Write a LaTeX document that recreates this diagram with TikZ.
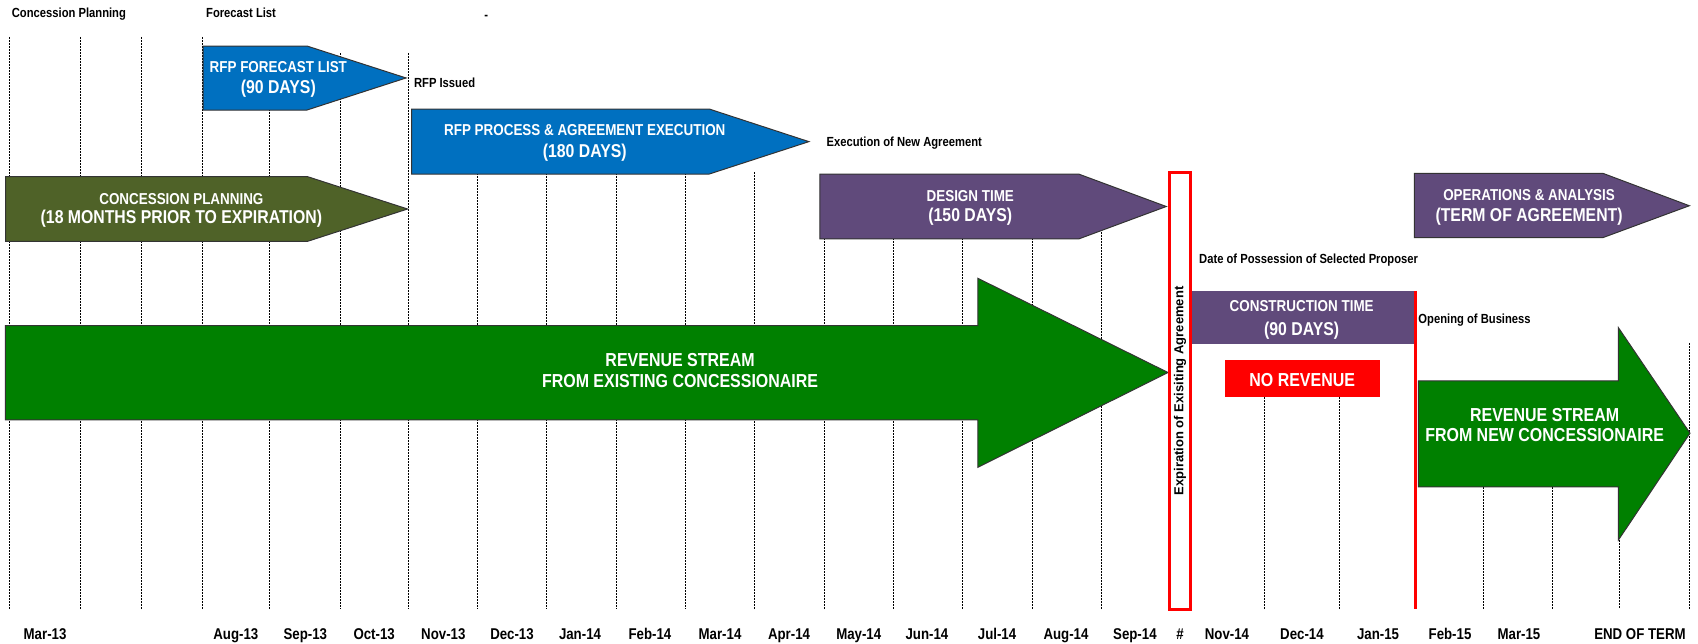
\documentclass[tikz,border=0pt]{standalone}
\usepackage{fontspec}
\setmainfont{Liberation Sans}[FakeStretch=0.85]
\newfontfamily\widefont{Liberation Sans}
\definecolor{rfpblue}{HTML}{0070C0}
\definecolor{planolive}{HTML}{4F6228}
\definecolor{phasepurple}{HTML}{604A7B}
\definecolor{revgreen}{HTML}{008000}
\newcommand{\notefont}{\fontsize{6.6}{8}\selectfont\bfseries}
\newcommand{\headfont}{\fontsize{7.9}{9.5}\selectfont\bfseries}
\newcommand{\daysfont}{\fontsize{9.3}{11}\selectfont\bfseries}
\newcommand{\revfont}{\fontsize{9.4}{11}\selectfont\bfseries}
\newcommand{\monthfont}{\fontsize{7.8}{9}\selectfont\bfseries}
\tikzset{
  gridline/.style={black, line width=0.45pt, dash pattern=on 0.9pt off 0.6pt},
  phase/.style={draw=black!80, line width=0.5pt},
  headtext/.style={text=white, font=\headfont, inner sep=0pt, anchor=base},
  daystext/.style={text=white, font=\daysfont, inner sep=0pt, anchor=base},
  revtext/.style={text=white, font=\revfont, inner sep=0pt, anchor=base},
  note/.style={font=\notefont, inner sep=0pt, anchor=base west},
  month/.style={font=\monthfont, inner sep=0pt, anchor=base},
  marker/.style={red, line width=1.5pt},
}

\begin{document}
\begin{tikzpicture}[x=0.5415pt, y=-0.5415pt]
\useasboundingbox (0,0) rectangle (1568,594);
\foreach \x/\t in {9/34, 74/34, 131/34, 187/34, 249/101, 314/49, 377/49, 441/160, 505/160, 569/160, 633/160, 697/159, 761/220, 825/220, 889/220, 953/220, 1017/214, 1168/367, 1237/367, 1370/450, 1434/450, 1495/499, 1560/317} {
  \draw[gridline] (\x,\t) -- (\x,562);
}

\filldraw[phase, fill=rfpblue] (187.5,42.5) -- (283.5,42.5) -- (375,72) -- (283.5,101.6) -- (187.5,101.6) -- cycle;
\filldraw[phase, fill=rfpblue] (380,100.7) -- (655,100.7) -- (747,130.8) -- (655,160.7) -- (380,160.7) -- cycle;
\filldraw[phase, fill=planolive] (5.3,163) -- (283.6,163) -- (376.4,193) -- (283.6,223) -- (5.3,223) -- cycle;
\filldraw[phase, fill=phasepurple] (757,160.7) -- (996,160.7) -- (1077,190.7) -- (996,220.7) -- (757,220.7) -- cycle;
\filldraw[phase, fill=phasepurple] (1306,160) -- (1480,160) -- (1560,190) -- (1480,219.5) -- (1306,219.5) -- cycle;
\fill[phasepurple] (1100,268.7) rectangle (1306,318);
\fill[red] (1131,332.4) rectangle (1274,367);
\filldraw[phase, fill=revgreen] (5,300.7) -- (903,300.7) -- (903,257) -- (1078.6,344) -- (903,431.5) -- (903,387.8) -- (5,387.8) -- cycle;
\filldraw[phase, fill=revgreen] (1309.8,351.8) -- (1494.5,351.8) -- (1494.5,302.6) -- (1560.6,400) -- (1494.5,498.7) -- (1494.5,449.7) -- (1309.8,449.7) -- cycle;

\draw[marker] (1080.4,159.5) rectangle (1099,563);
\draw[marker] (1307,268.7) -- (1307,562.5);

\node[headtext] (forecast) at (257,66.8) {RFP FORECAST LIST};
\node[daystext] (forecastdays) at (257,86.7) {(90 DAYS)};
\node[headtext] (process) at (540,125.2) {RFP PROCESS \& AGREEMENT EXECUTION};
\node[daystext] (processdays) at (540,145.5) {(180 DAYS)};
\node[headtext] (planning) at (167.5,189) {CONCESSION PLANNING};
\node[daystext] (planningmonths) at (167.5,206.8) {(18 MONTHS PRIOR TO EXPIRATION)};
\node[headtext] (design) at (896,185.9) {DESIGN TIME};
\node[daystext] (designdays) at (896,204.6) {(150 DAYS)};
\node[headtext] (operations) at (1412,184.7) {OPERATIONS \& ANALYSIS};
\node[daystext] (operationsterm) at (1412,204.7) {(TERM OF AGREEMENT)};
\node[headtext] (construction) at (1202,287.5) {CONSTRUCTION TIME};
\node[daystext] (constructiondays) at (1202,310) {(90 DAYS)};
\node[revtext] (norevenue) at (1202.5,356.5) {NO REVENUE};
\node[revtext] (oldstream) at (628,338.2) {REVENUE STREAM};
\node[revtext] (oldsource) at (628,358.2) {FROM EXISTING CONCESSIONAIRE};
\node[revtext] (newstream) at (1426.4,388.8) {REVENUE STREAM};
\node[revtext] (newsource) at (1426.4,407.9) {FROM NEW CONCESSIONAIRE};

\node[rotate=90, inner sep=0pt, font=\widefont\fontsize{6.5}{8}\selectfont\bfseries] (expiry) at (1089.7,361) {Expiration of Exisiting Agreement};

\node[note] (planningnote) at (10.6,15.9) {Concession Planning};
\node[note] (forecastnote) at (190,15.9) {Forecast List};
\node[note] (dashnote) at (447,18) {-};
\node[note] (issued) at (382,80.4) {RFP Issued};
\node[note] (executed) at (763,135.2) {Execution of New Agreement};
\node[note] (possession) at (1107,243.4) {Date of Possession of Selected Proposer};
\node[note] (opening) at (1309.5,298.4) {Opening of Business};

\foreach \x/\m [count=\i] in {41.6/Mar-13, 217.8/Aug-13, 282/Sep-13, 345.5/Oct-13, 409.4/Nov-13, 472.8/Dec-13, 535.6/Jan-14, 600.2/Feb-14, 664.9/Mar-14, 728.6/Apr-14, 793/May-14, 856/Jun-14, 920.7/Jul-14, 984.4/Aug-14, 1048/Sep-14, 1089.7/\#, 1133/Nov-14, 1202.3/Dec-14, 1272.5/Jan-15, 1339/Feb-15, 1402.7/Mar-15, 1514.4/END OF TERM} {
  \node[month] (month\i) at (\x,590.6) {\m};
}
\end{tikzpicture}
\end{document}
